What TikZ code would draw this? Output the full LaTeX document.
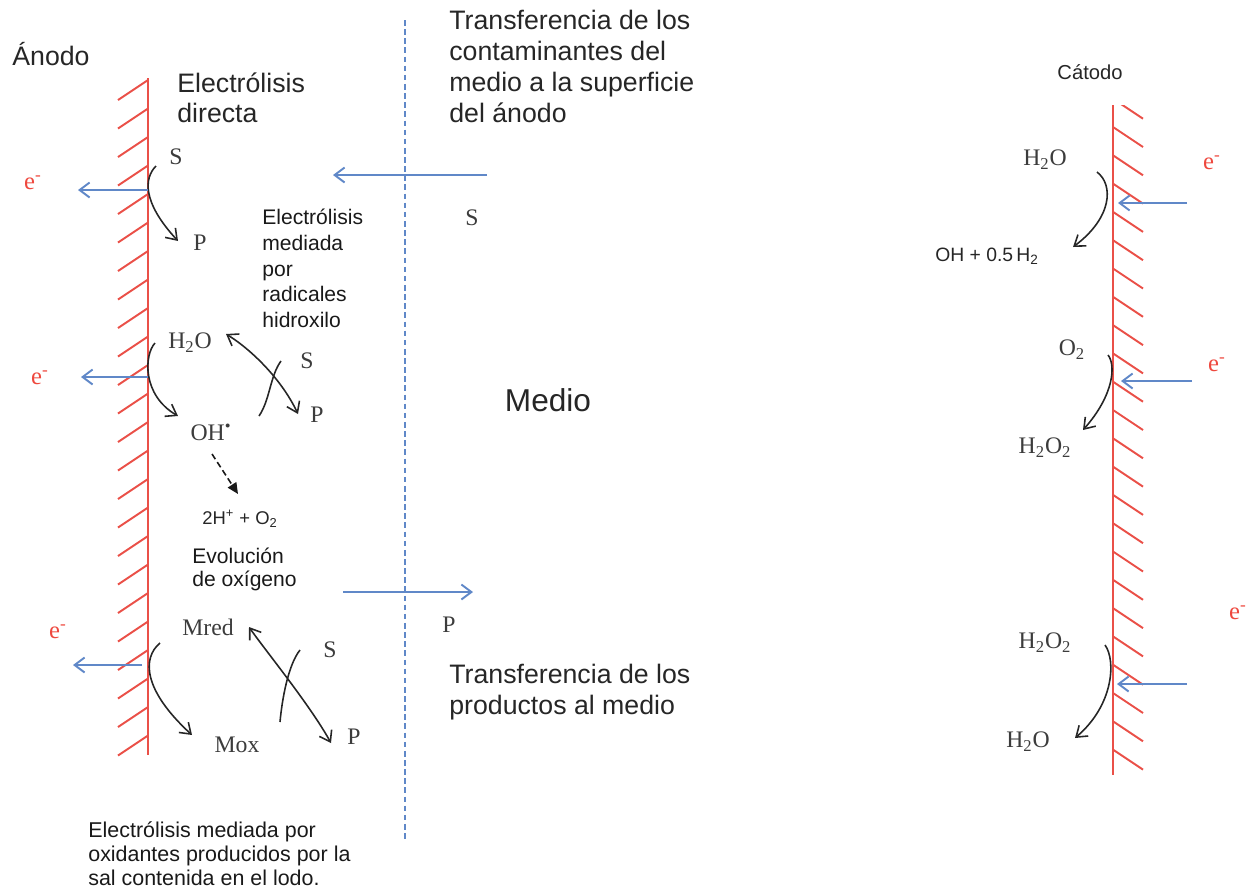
\documentclass[tikz,border=0pt]{standalone}
\usepackage{fontspec}
\setmainfont{Liberation Serif}
\setsansfont{Liberation Sans}
\usetikzlibrary{arrows.meta,positioning}

\definecolor{wallred}{RGB}{234,80,72}
\definecolor{flowblue}{RGB}{96,136,200}
\definecolor{ered}{RGB}{238,72,62}
\definecolor{inkgrey}{RGB}{60,60,60}

\begin{document}
\begin{tikzpicture}[x=0.02cm, y=-0.02cm,
            wall/.style={draw=wallred, line width=1.4pt},
            hatch/.style={draw=wallred, line width=1.1pt},
            eflow/.style={draw=flowblue, line width=1.1pt, -{Straight Barb[length=2mm,width=3mm]}},
            rxn/.style={draw=black!85, line width=0.9pt, -{Straight Barb[length=2mm,width=2.8mm]}},
            swap/.style={draw=black!85, line width=0.9pt, {Straight Barb[length=2mm,width=2.8mm]}-{Straight Barb[length=2mm,width=2.8mm]}},
            crossarc/.style={draw=black!85, line width=0.9pt},
            chem/.style={inner sep=0pt, text=inkgrey, font=\fontsize{13.5}{16}\selectfont},
            elec/.style={inner sep=0pt, text=ered, font=\fontsize{14}{16}\selectfont},
            big/.style={inner sep=0pt, align=left, anchor=north west, text=black!85, font=\sffamily\fontsize{15.2}{17.6}\selectfont},
            small/.style={inner sep=0pt, align=left, anchor=north west, text=black!90, font=\sffamily\fontsize{12}{14.6}\selectfont},
            tag/.style={inner sep=0pt, text=black!85, font=\sffamily\fontsize{11}{12}\selectfont}]
            \useasboundingbox (0,0) rectangle (1248,890);

            % electrodes
            \draw[wall] (148,78) -- (148,755);
            \foreach \k in {0,...,23}
                \draw[hatch] (148,{80+28.5*\k}) -- ++(-30,20);
            \draw[wall] (1113,105) -- (1113,775);
            \begin{scope}
                \clip (1110,105) rectangle (1150,780);
                \foreach \k in {-1,...,22}
                    \draw[hatch] (1113,{127+28.3*\k}) -- ++(30,20);
            \end{scope}

            % medio
            \coordinate (mtop) at (405,20);
            \coordinate (mbot) at (405,842);
            \draw[flowblue, line width=1.2pt, dash pattern=on 3.2pt off 2pt] (mtop) -- (mbot);
            \coordinate (tin0) at (487,175);
            \coordinate (tin1) at (333,175);
            \draw[eflow] (tin0) -- (tin1);
            \coordinate (tout0) at (343,592);
            \coordinate (tout1) at (473,592);
            \draw[eflow] (tout0) -- (tout1);
            \node[big] (tcont) at (449,10) {Transferencia de los\\contaminantes del\\medio a la superficie\\del ánodo};
            \node[chem] (smed) at (472,218) {S};
            \node[chem] (pmed) at (449,625) {P};
            \node[big] (tprod) at (449,664) {Transferencia de los\\productos al medio};
            \node[inner sep=0pt, text=black!85, font=\sffamily\fontsize{18}{20}\selectfont] (medio) at (548,400) {Medio};

            % anodo: electrolisis directa
            \node[big, anchor=base west] (anodo) at (12,65) {Ánodo};
            \node[big] (edir) at (177,72) {Electrólisis\\directa};
            \node[chem] (s1) at (176,157) {S};
            \node[chem] (p1) at (200,243) {P};
            \coordinate (d0) at (156,166);
            \coordinate (d1) at (178,241);
            \draw[rxn] (d0) .. controls (144,178) and (142,202) .. (d1);
            \coordinate (aw1) at (148,190);
            \coordinate (at1) at (78,190);
            \draw[eflow] (aw1) -- (at1);
            \node[elec] (e1) at (33,183) {e\textsuperscript{-}};

            % radicales hidroxilo
            \node[small] (erad) at (262,209) {Electrólisis\\mediada\\por\\radicales\\hidroxilo};
            \node[chem] (h2o) at (190,343) {H\textsubscript{2}O};
            \node[chem] (oh) at (211,432) {OH\textsuperscript{•}};
            \node[chem] (s2) at (307,361) {S};
            \node[chem] (p2) at (317,415) {P};
            \coordinate (r0) at (155,343);
            \coordinate (r1) at (178,416);
            \draw[rxn] (r0) .. controls (144,355) and (142,395) .. (r1);
            \coordinate (aw2) at (148,377);
            \coordinate (at2) at (81,377);
            \draw[eflow] (aw2) -- (at2);
            \node[elec] (e2) at (40,378) {e\textsuperscript{-}};
            \coordinate (x0) at (226,334);
            \coordinate (x1) at (298,414);
            \draw[swap] (x0) .. controls (252,350) and (282,380) .. (x1);
            \coordinate (c0) at (281,361);
            \coordinate (c1) at (259,416);
            \draw[crossarc] (c0) .. controls (270,376) and (270,400) .. (c1);
            \coordinate (o0) at (212,454);
            \coordinate (o1) at (238,494);
            \draw[black!90, line width=0.9pt, dash pattern=on 3.5pt off 2pt, -{Triangle[length=2.2mm,width=2mm]}] (o0) -- (o1);
            \node[tag, font=\sffamily\fontsize{10.5}{12}\selectfont] (o2evo) at (240,519) {2H\textsuperscript{+} + O\textsubscript{2}};
            \node[small, font=\sffamily\fontsize{12}{12.8}\selectfont] (evo) at (192,548) {Evolución\\de oxígeno};

            % oxidantes de la sal
            \node[chem] (mred) at (208,627) {Mred};
            \node[chem] (mox) at (237,745) {Mox};
            \node[chem] (s3) at (330,650) {S};
            \node[chem] (p3) at (354,737) {P};
            \coordinate (m0) at (160,643);
            \coordinate (m1) at (192,735);
            \draw[rxn] (m0) .. controls (142,658) and (143,690) .. (m1);
            \coordinate (aw3) at (142,665);
            \coordinate (at3) at (73,665);
            \draw[eflow] (aw3) -- (at3);
            \node[elec] (e3) at (58,632) {e\textsuperscript{-}};
            \coordinate (y0) at (249,627);
            \coordinate (y1) at (331,743);
            \draw[swap] (y0) .. controls (265,650) and (310,705) .. (y1);
            \coordinate (k0) at (300,650);
            \coordinate (k1) at (280,722);
            \draw[crossarc] (k0) .. controls (288,665) and (282,700) .. (k1);
            \node[small, font=\sffamily\fontsize{12.2}{13.9}\selectfont] (esal) at (88,821) {Electrólisis mediada por\\oxidantes producidos por la\\sal contenida en el lodo.};

            % catodo
            \node[tag, font=\sffamily\fontsize{11.5}{13}\selectfont] (catodo) at (1090,72) {Cátodo};
            \node[chem] (kh2o) at (1045,160) {H\textsubscript{2}O};
            \node[elec] (ke1) at (1212,163) {e\textsuperscript{-}};
            \coordinate (ks1) at (1187,203);
            \coordinate (kt1) at (1118,203);
            \draw[eflow] (ks1) -- (kt1);
            \coordinate (h0) at (1097,172);
            \coordinate (h1) at (1073,247);
            \draw[rxn] (h0) .. controls (1114,185) and (1112,218) .. (h1);
            \node[tag] (kh2) at (987,256) {OH + 0.5\,H\textsubscript{2}};

            \node[chem] (ko2) at (1072,350) {O\textsubscript{2}};
            \node[elec] (ke2) at (1217,365) {e\textsuperscript{-}};
            \coordinate (ks2) at (1192,381);
            \coordinate (kt2) at (1121,381);
            \draw[eflow] (ks2) -- (kt2);
            \coordinate (g0) at (1108,355);
            \coordinate (g1) at (1083,430);
            \draw[rxn] (g0) .. controls (1116,365) and (1114,395) .. (g1);
            \node[chem] (kh2o2) at (1045,448) {H\textsubscript{2}O\textsubscript{2}};

            \node[chem] (kh2o2b) at (1045,643) {H\textsubscript{2}O\textsubscript{2}};
            \node[elec] (ke3) at (1238,613) {e\textsuperscript{-}};
            \coordinate (ks3) at (1187,684);
            \coordinate (kt3) at (1117,684);
            \draw[eflow] (ks3) -- (kt3);
            \coordinate (f0) at (1105,645);
            \coordinate (f1) at (1075,738);
            \draw[rxn] (f0) .. controls (1116,660) and (1114,705) .. (f1);
            \node[chem] (kh2ob) at (1028,742) {H\textsubscript{2}O};
        \end{tikzpicture}
\end{document}
